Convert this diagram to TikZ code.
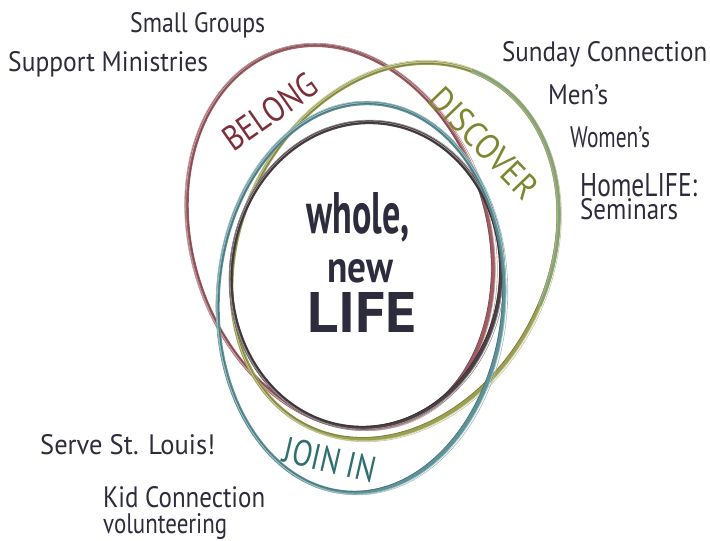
\documentclass[tikz,border=0pt]{standalone}
\usepackage{fontspec}
\setmainfont{PT Sans}
\usepackage{graphicx}
\definecolor{ink}{HTML}{2D2C3C}
\definecolor{ringred}{HTML}{9E5E64}
\definecolor{ringolive}{HTML}{9CA052}
\definecolor{ringgreen}{HTML}{86A27A}
\definecolor{ringteal}{HTML}{5E9299}
\definecolor{ringdark}{HTML}{4B4043}
\definecolor{txtred}{HTML}{7D2E3A}
\definecolor{txtolive}{HTML}{7E8630}
\definecolor{txtteal}{HTML}{2E7070}
\newcommand{\ring}[6]{%
  \draw[#1, line width=4pt, rotate around={#6:(#2,#3)}] (#2,#3) ellipse [x radius=#4, y radius=#5];
  \draw[#1!55!white, line width=0.7pt, rotate around={#6+0.6:(#2+0.5,#3-0.5)}] (#2+0.5,#3-0.5) ellipse [x radius=#4+1.2, y radius=#5+0.8];
  \draw[#1!80!black, line width=0.8pt, rotate around={#6-0.5:(#2-0.5,#3+0.5)}] (#2-0.5,#3+0.5) ellipse [x radius=#4-1.2, y radius=#5-0.8];
  \draw[#1!60!white, line width=0.6pt, rotate around={#6+1:(#2+1,#3)}] (#2+1,#3) ellipse [x radius=#4+2.6, y radius=#5+2];
}
\tikzset{
  lab/.style={inner sep=0pt, text=ink, font=\fontsize{26}{28}\selectfont},
  center/.style={inner sep=0pt, text=ink, font=\bfseries\fontsize{48}{50}\selectfont},
  ringlab/.style={inner sep=0pt, font=\fontsize{34}{36}\selectfont}
}
\begin{document}
\begin{tikzpicture}[x=1pt,y=1pt]
\useasboundingbox (0,0) rectangle (710,541);
% rings
\ring{ringred}{340}{304}{148}{196}{18}
\ring{ringolive}{395}{290}{154}{196}{-27}
\begin{scope}[rotate around={-27:(395,290)}]
  \draw[ringgreen, line width=4.2pt] (395,290) ++ (5:154 and 196) arc[start angle=5, end angle=95, x radius=154, y radius=196];
  \draw[ringolive!80!white, line width=0.8pt] (395,290) ++ (5:153 and 195) arc[start angle=5, end angle=95, x radius=153, y radius=195];
\end{scope}
\ring{ringdark}{366}{266}{135}{153}{-6}
\ring{ringteal}{361}{243}{143}{195}{-4}
% ring labels
\node[ringlab, text=txtred, rotate=35] (belong) at (270,429) {\resizebox{107pt}{25pt}{BELONG}};
\node[ringlab, text=txtolive, rotate=-46] (discover) at (484,398) {\resizebox{140pt}{25pt}{DISCOVER}};
\node[ringlab, text=txtteal, rotate=-13] (joinin) at (330,81) {\resizebox{93pt}{26pt}{JOIN IN}};
% center
\node[center, anchor=base] (whole) at (358,307) {\resizebox{103pt}{41pt}{whole,}};
\node[center, anchor=base] (new) at (360,258) {\resizebox{66pt}{23pt}{new}};
\node[center, anchor=base] (life) at (362,208) {\resizebox{109pt}{40pt}{LIFE}};
% side labels
\node[lab, anchor=base west] (sg) at (130,508) {\resizebox{135pt}{20pt}{Small Groups}};
\node[lab, anchor=base west] (sm) at (8,469) {\resizebox{200pt}{20pt}{Support Ministries}};
\node[lab, anchor=base west] (sc) at (502,479) {\resizebox{205pt}{20pt}{Sunday Connection}};
\node[lab, anchor=base west] (men) at (548,436) {\resizebox{60pt}{20pt}{Men's}};
\node[lab, anchor=base west] (women) at (570,393) {\resizebox{80pt}{21pt}{Women's}};
\node[lab, anchor=base west] (home) at (580,344) {\resizebox{117pt}{23pt}{HomeLIFE:}};
\node[lab, anchor=base west] (sem) at (580,321) {\resizebox{98pt}{21pt}{Seminars}};
\node[lab, anchor=base west] (serve) at (40,86) {\resizebox{175pt}{20pt}{Serve St. Louis!}};
\node[lab, anchor=base west] (kid) at (103,33) {\resizebox{162pt}{21pt}{Kid Connection}};
\node[lab, anchor=base west] (vol) at (103,7) {\resizebox{124pt}{20pt}{volunteering}};
\end{tikzpicture}
\end{document}
